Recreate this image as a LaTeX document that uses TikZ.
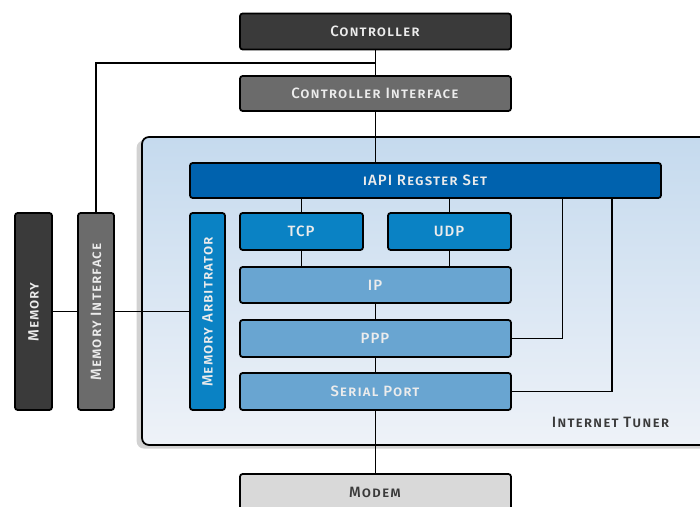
\documentclass[tikz,border=0pt]{standalone}
\usepackage{fontspec}
\setmainfont{Fira Sans}[UprightFont={* Medium}, LetterSpace=7]
\usetikzlibrary{positioning, calc, shadows}
\definecolor{slate}{HTML}{3A3A3A}
\definecolor{steel}{HTML}{6B6B6B}
\definecolor{navy}{HTML}{0062AE}
\definecolor{ocean}{HTML}{0A82C4}
\definecolor{sky}{HTML}{69A5D1}
\definecolor{paper}{HTML}{D9D9D9}
\definecolor{haze}{HTML}{C5DAEE}
\definecolor{mist}{HTML}{EEF2F8}
\definecolor{chalk}{HTML}{ECECEC}
\newcommand{\blockfont}{\fontsize{8.5}{10}\selectfont}

\begin{document}
\begin{tikzpicture}[
  block/.style={draw=black, line width=1pt, rounded corners=1.5pt, inner sep=0pt,
                align=center, font=\blockfont, text=chalk},
  wide/.style={block, minimum width=5.42cm, minimum height=0.72cm},
  tall/.style={block, minimum width=0.72cm, minimum height=3.94cm},
  link/.style={line width=1pt},
]
  \useasboundingbox (0,0) rectangle (14,10.14);

  % Internet tuner panel
  \draw[line width=1pt, rounded corners=4pt, top color=haze, bottom color=mist,
        drop shadow={shadow xshift=-3pt, shadow yshift=-2pt, fill=black!35}]
    (2.84,1.24) rectangle (14.4,7.40);
  \node[font=\blockfont, text=slate] (tunerlbl) at (12.22,1.70) {\textsc{Internet Tuner}};

  % Controller side
  \node[wide, fill=slate] (ctrl) at (7.51,9.51) {\textsc{Controller}};
  \node[wide, fill=steel, minimum height=0.70cm] (ctrlif) at (7.51,8.27) {\textsc{Controller Interface}};

  % Memory side
  \node[tall, fill=slate, minimum width=0.74cm] (mem) at (0.67,3.91) {\rotatebox{90}{\textsc{Memory}}};
  \node[tall, fill=steel] (memif) at (1.92,3.91) {\rotatebox{90}{\textsc{Memory Interface}}};
  \node[tall, fill=ocean, minimum width=0.70cm] (arb) at (4.15,3.91) {\rotatebox{90}{\textsc{Memory Arbitrator}}};

  % Protocol stack
  \node[block, fill=navy, minimum width=9.42cm, minimum height=0.70cm] (iapi) at (8.51,6.53) {\textsc{iAPI Regster Set}};
  \node[block, fill=ocean, minimum width=2.46cm, minimum height=0.74cm] (tcp) at (6.03,5.51) {\textsc{TCP}};
  \node[block, fill=ocean, minimum width=2.46cm, minimum height=0.74cm] (udp) at (8.99,5.51) {\textsc{UDP}};
  \node[wide, fill=sky] (ip) at (7.51,4.44) {\textsc{IP}};
  \node[wide, fill=sky, minimum height=0.74cm] (ppp) at (7.51,3.37) {\textsc{PPP}};
  \node[wide, fill=sky, minimum height=0.74cm] (serial) at (7.51,2.31) {\textsc{Serial Port}};
  \node[wide, fill=paper, text=slate, minimum height=0.74cm] (modem) at (7.51,0.29) {\textsc{Modem}};

  % Connections
  \coordinate (tap) at ($(ctrl.south)!0.5!(ctrlif.north)$);
  \draw[link] (ctrl.south) -- (ctrlif.north);
  \draw[link] (tap) -| (memif.north);
  \draw[link] (ctrlif.south) -- (ctrlif.south |- iapi.north);
  \draw[link] (mem.east) -- (memif.west);
  \draw[link] (memif.east) -- (arb.west);
  \draw[link] (iapi.south -| tcp) -- (tcp.north);
  \draw[link] (iapi.south -| udp) -- (udp.north);
  \draw[link] (tcp.south) -- (tcp.south |- ip.north);
  \draw[link] (udp.south) -- (udp.south |- ip.north);
  \draw[link] (ip.south) -- (ppp.north);
  \draw[link] (ppp.south) -- (serial.north);
  \draw[link] (serial.south) -- (modem.north);
  \draw[link] (ppp.east) -| ($(iapi.south west)!0.79!(iapi.south east)$);
  \draw[link] (serial.east) -| ($(iapi.south west)!0.894!(iapi.south east)$);
\end{tikzpicture}
\end{document}
